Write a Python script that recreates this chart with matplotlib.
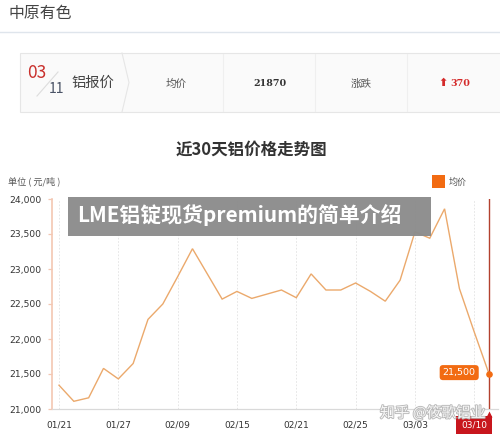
import matplotlib
matplotlib.use("Agg")
import matplotlib.pyplot as plt
import matplotlib.patheffects as pe
from matplotlib.patches import Rectangle
from matplotlib.lines import Line2D
from matplotlib.ticker import FuncFormatter
import matplotlib.transforms as mtransforms

# ---------------- data ----------------
avg_price = [21340, 21110, 21160, 21580, 21430, 21650, 22280, 22500, 22890, 23290,
             22930, 22570, 22680, 22580, 22640, 22700, 22590, 22930, 22700, 22700,
             22800, 22680, 22540, 22840, 23530, 23440, 23860, 22720, 22100, 21500]
tick_labels = ["01/21", "01/27", "02/09", "02/15", "02/21", "02/25", "03/03", "03/10"]
tick_step = 4
y_ticks = [21000, 21500, 22000, 22500, 23000, 23500, 24000]
info_date = ("03", "11")
info_avg = "21870"
info_change = "370"
series_name = "均价"

CJK = ["Noto Sans CJK SC", "DejaVu Sans"]
W, H = 500, 434
fig = plt.figure(figsize=(W / 100, H / 100), dpi=100, facecolor="white")

# ---------------- chart axes ----------------
n = len(avg_price)
px_step = 14.83
x0_px = 59
left_px, right_px, top_px, bot_px = 52, 498, 199, 409
ax = fig.add_axes([left_px / W, 1 - bot_px / H, (right_px - left_px) / W, (bot_px - top_px) / H])
ax.set_xlim(-(x0_px - left_px) / px_step, (right_px - x0_px) / px_step)
ax.set_ylim(y_ticks[0], y_ticks[-1])
ax.set_facecolor("none")

xs = list(range(n))
ax.plot(xs, avg_price, color="#eba96c", lw=1.0, zorder=3, solid_joinstyle="miter")

for s in ("top", "right"):
    ax.spines[s].set_visible(False)
ax.spines["left"].set_color("#f3c7b2")
ax.spines["left"].set_linewidth(1.2)
ax.spines["bottom"].set_color("#d9d9d9")
ax.spines["bottom"].set_linewidth(0.9)

ax.set_yticks(y_ticks)
ax.yaxis.set_major_formatter(FuncFormatter(lambda v, p: f"{int(v):,}"))
ax.tick_params(axis="y", length=3, width=0.9, color="#f3c7b2", pad=4.5,
               labelsize=6.6, labelcolor="#333333")

tick_pos = list(range(0, n, tick_step))
ax.set_xticks(tick_pos)
ax.set_xticklabels(tick_labels)
ax.tick_params(axis="x", length=0, pad=8.5, labelsize=6.5, labelcolor="#333333")
for t in tick_pos:
    ax.axvline(t, color="#e2e2e2", lw=0.6, ls=(0, (2, 2)), zorder=1)

# last tick label highlighted (hovered date)
last_lbl = ax.get_xticklabels()[-1]
last_lbl.set_color("white")
last_lbl.set_bbox(dict(boxstyle="square,pad=0.55", fc="#c8161d", ec="none"))

# crosshair + last point
ax.axvline(n - 1, color="#b3412e", lw=1.0, zorder=4)
ax.scatter([n - 1], [avg_price[-1]], s=14, color="#f26b12", zorder=5, clip_on=False)
notch_tr = mtransforms.offset_copy(ax.transData, fig=fig, x=0, y=-5, units="dots")
ax.plot([n - 1], [y_ticks[0]], marker="^", ms=5, color="#c8161d", mec="none",
        transform=notch_tr, clip_on=False, zorder=6)
ax.annotate(f"{avg_price[-1]:,}", (n - 1, avg_price[-1]), xytext=(-21.5, 1.0),
            textcoords="offset points", ha="center", va="center", fontsize=6.8,
            color="white", fontfamily="DejaVu Sans",
            bbox=dict(boxstyle="round,pad=0.32,rounding_size=0.35", fc="#f26b12", ec="none"),
            zorder=6)

# ---------------- overlay (page decorations) ----------------
ov = fig.add_axes([0, 0, 1, 1], zorder=5)
ov.set_xlim(0, W)
ov.set_ylim(H, 0)
ov.axis("off")
ov.patch.set_alpha(0)

ov.text(8, 13.5, "中原有色", fontsize=11.4, color="#444444", family=CJK, va="center", ha="left")
ov.add_line(Line2D([0, W], [32, 32], color="#dfe5ec", lw=1.0))

# info box
ov.add_patch(Rectangle((19.5, 53), 485, 59, fc="#fafafa", ec="#e6e6e6", lw=0.8))
ov.add_line(Line2D([122, 129, 122], [53, 82.5, 112], color="#e6e6e6", lw=0.8))
for xv in (223, 315, 407):
    ov.add_line(Line2D([xv, xv], [54, 111], color="#efefef", lw=0.8))
ov.add_line(Line2D([37, 58], [96, 72], color="#dddddd", lw=0.8))
ov.text(27, 73, info_date[0], fontsize=12.5, color="#c9302c", family=CJK, va="center", ha="left")
ov.text(48.5, 89, info_date[1], fontsize=10.0, color="#4a5366", family=CJK, va="center", ha="left")
ov.text(72, 82.5, "铝报价", fontsize=10.3, color="#444444", family=CJK, va="center", ha="left")
ov.text(176.5, 84, "均价", fontsize=7.6, color="#555555", family=CJK, va="center", ha="center")
ov.text(269.5, 84, info_avg, fontsize=6.8, color="#333333", fontweight="bold",
        family="DejaVu Serif", va="center", ha="center")
ov.text(361, 84, "涨跌", fontsize=7.6, color="#555555", family=CJK, va="center", ha="center")
ov.text(443.5, 83.5, "⬆", fontsize=8.0, color="#d42a2a", fontweight="bold",
        family="DejaVu Sans", va="center", ha="center")
ov.text(450.5, 84, info_change, fontsize=6.8, color="#d42a2a", fontweight="bold",
        family="DejaVu Serif", va="center", ha="left")

# chart title, unit, legend
ov.text(251.5, 150, "近30天铝价格走势图", fontsize=11.9, color="#333333", fontweight="bold",
        family=CJK, va="center", ha="center")
ov.text(8, 181, "单位 ( 元/吨 )", fontsize=6.6, color="#555555", family=CJK, va="center", ha="left")
ov.add_patch(Rectangle((432, 175), 13, 13, fc="#f26b12", ec="none"))
ov.text(449, 182, series_name, fontsize=6.5, color="#555555", family=CJK, va="center", ha="left")

# banner
ov.add_patch(Rectangle((68, 197), 363, 39, fc="#8c8c8c", ec="none", alpha=0.97))
ov.text(77, 215.5, "LME铝锭现货premium的简单介绍", fontsize=15.0, color="white",
        fontweight="bold", family=CJK, va="center", ha="left")

# watermark
ov.text(380, 413, "知乎 @筱歌铝业", fontsize=10.6, color="#f7f7f7", family=CJK,
        va="center", ha="left", zorder=10,
        path_effects=[pe.withStroke(linewidth=1.3, foreground="#b9b9b9")])

fig.savefig("out.png", dpi=100, facecolor="white")
